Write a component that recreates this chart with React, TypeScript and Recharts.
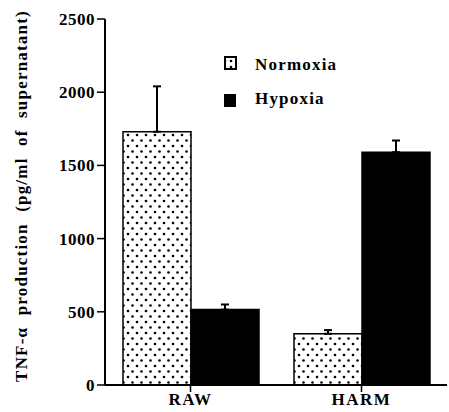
import { BarChart, Bar, XAxis, YAxis, ErrorBar } from "recharts"

const categories = ["RAW", "HARM"]
const normoxia = [1730, 350]
const normoxiaErr = [310, 25]
const hypoxia = [515, 1590]
const hypoxiaErr = [35, 80]
const yTicks = [0, 500, 1000, 1500, 2000, 2500]

const data = categories.map((name, i) => ({
    name,
    normoxia: normoxia[i],
    normoxiaErr: [0, normoxiaErr[i]],
    hypoxia: hypoxia[i],
    hypoxiaErr: [0, hypoxiaErr[i]],
}))

const serif = "'Liberation Serif', 'Times New Roman', serif"

function YLabel() {
    return (
        <text
            x={27}
            y={196}
            transform="rotate(-90 27 196)"
            textAnchor="middle"
            fontFamily={serif}
            fontWeight="bold"
            fontSize={17}
            letterSpacing={1.2}
            wordSpacing={6}
            fill="#000"
        >
            TNF-α production (pg/ml of supernatant)
        </text>
    )
}

// legend sits inside the plot box, drawn as an overlay
function LegendBox() {
    return (
        <svg width={140} height={60} style={{ position: "absolute", top: 52, left: 222 }}>
            <defs>
                <pattern id="dotsLegend" width={6} height={6} patternUnits="userSpaceOnUse">
                    <circle cx={3} cy={3} r={1.3} fill="#000" />
                </pattern>
            </defs>
            <rect x={3} y={5} width={11} height={12} fill="url(#dotsLegend)" stroke="#000" strokeWidth={2} />
            <text x={33} y={18} fontFamily={serif} fontWeight="bold" fontSize={17} letterSpacing={1.2}>
                Normoxia
            </text>
            <rect x={2} y={42} width={12} height={13} fill="#000" />
            <text x={33} y={52} fontFamily={serif} fontWeight="bold" fontSize={17} letterSpacing={1.2}>
                Hypoxia
            </text>
        </svg>
    )
}

export default function App() {
    const tickStyle = { fontFamily: serif, fontWeight: "bold", fontSize: 17, fill: "#000" }
    return (
        <div style={{ position: "relative", width: 449, height: 412, background: "#fff" }}>
            <style>{`body{margin:0}`}</style>
            <BarChart
                width={449}
                height={412}
                data={data}
                margin={{ top: 19, right: 2, bottom: 0, left: 0 }}
                barGap={0}
                barSize={68}
            >
                <defs>
                    <pattern id="dots" width={9} height={11} patternUnits="userSpaceOnUse">
                        <circle cx={2} cy={3} r={1.3} fill="#000" />
                        <circle cx={6.5} cy={8.5} r={1.3} fill="#000" />
                    </pattern>
                </defs>
                <XAxis
                    dataKey="name"
                    height={27}
                    tick={{ ...tickStyle, letterSpacing: 1.5 }}
                    tickSize={7}
                    tickMargin={1}
                    tickLine={{ stroke: "#000", strokeWidth: 1.5 }}
                    axisLine={{ stroke: "#000", strokeWidth: 2 }}
                />
                <XAxis xAxisId="top" dataKey="name" orientation="top" height={0} tick={false} tickLine={false} axisLine={{ stroke: "#000", strokeWidth: 2 }} />
                <YAxis
                    width={105}
                    domain={[0, 2500]}
                    ticks={yTicks}
                    tick={{ ...tickStyle, letterSpacing: 0.5 }}
                    tickSize={8}
                    tickLine={{ stroke: "#000", strokeWidth: 1.5 }}
                    axisLine={{ stroke: "#000", strokeWidth: 2 }}
                    label={<YLabel />}
                />
                <YAxis yAxisId="right" orientation="right" width={0} domain={[0, 2500]} tick={false} tickLine={false} axisLine={{ stroke: "#000", strokeWidth: 2 }} />
                <Bar dataKey="normoxia" name="Normoxia" fill="url(#dots)" stroke="#000" strokeWidth={1.5} isAnimationActive={false}>
                    <ErrorBar dataKey="normoxiaErr" width={4} stroke="#000" strokeWidth={2} />
                </Bar>
                <Bar dataKey="hypoxia" name="Hypoxia" fill="#000" stroke="#000" strokeWidth={1.5} isAnimationActive={false}>
                    <ErrorBar dataKey="hypoxiaErr" width={4} stroke="#000" strokeWidth={2} />
                </Bar>
            </BarChart>
            <LegendBox />
        </div>
    )
}
